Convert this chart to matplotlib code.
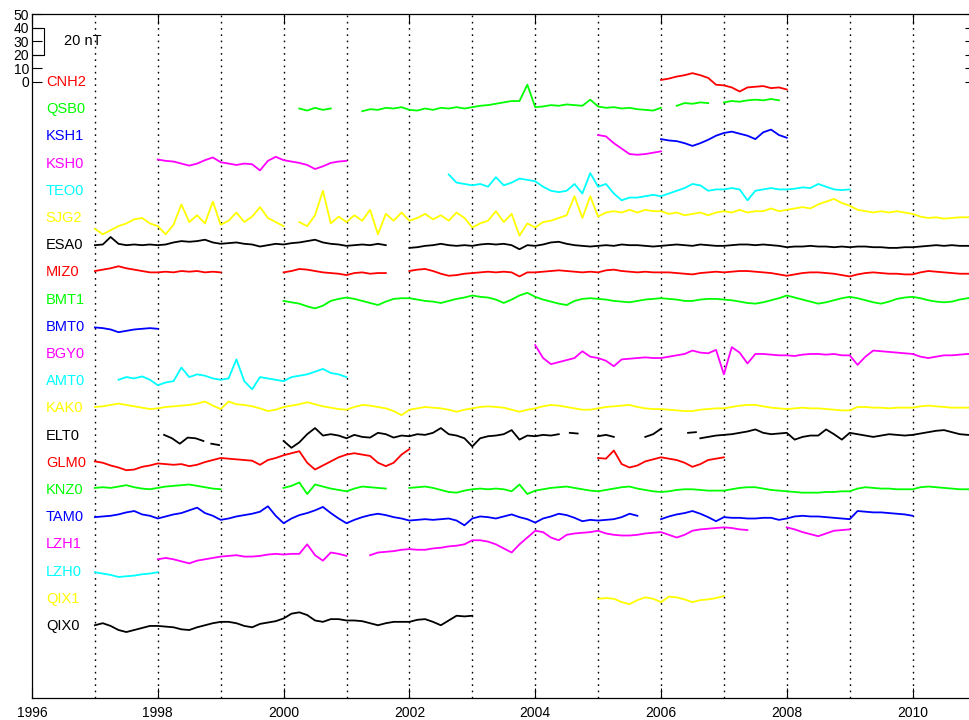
import numpy as np
import matplotlib
matplotlib.use("Agg")
import matplotlib.pyplot as plt

# Séries de variations (nT) lues sur la figure, pas de 1/8 d'année.
# Chaque station : liste de segments (année de début, valeurs)
STEP = 0.125
SPACING = 20  # décalage vertical entre stations (nT)

stations = ["CNH2", "QSB0", "KSH1", "KSH0", "TEO0", "SJG2", "ESA0", "MIZ0",
            "BMT1", "BMT0", "BGY0", "AMT0", "KAK0", "ELT0", "GLM0", "KNZ0",
            "TAM0", "LZH1", "LZH0", "QIX1", "QIX0"]

cnh2 = [(2006.0, [1.5, 2.5, 4, 5, 6.5, 5, 3, -2, -2.5, -4, -7, -4, -3.5, -3, -4.5, -4, -5.5])]

qsb0 = [
    (2000.25, [0.5, -1, 1, -0.5, 0.5]),
    (2001.25, [-1.5, 0, -0.5, 1, 0.5, 1.5,
               -0.5, -1, 0.5, -0.5, 1, 0.5, 1.5, 0.5,
               1.5, 2.5, 3, 4, 5, 6, 6, 18,
               1.5, 2, 3, 2.5, 3.5, 3, 2.5, 7,
               2, 1, 1.5, 0.5, 1, 0, -0.5, -1,
               1]),
    (2006.25, [2.5, 4.5, 4, 5, 4.5]),
    (2007.0, [5, 6, 5.5, 6.5, 7, 6.5, 7.5, 6.5]),
]

ksh1 = [(2006.0, [-2, -3, -3.5, -5, -7, -5, -2.5, 0.5, 2.5, 3.5, 2, 0.5, -2, 3, 5, 1, -1])]

ksh0 = [
    (1998.0, [3, 2, 1.5, 0, -1.5, 0, 2.5, 4.5,
              1, 0, -1, 0, -0.5, -5, 2, 5,
              2.5, 1.5, 0.5, -1, -4, -2, 0.5, 1.5,
              2]),
    (2005.0, [21, 20, 15, 11, 7, 6.5, 7, 8, 9]),
]

teo0 = [(2002.625, [12, 6, 5,
                    4, 5, 3, 10, 4, 6, 9, 8,
                    7, 3, 0, -1, 0, 5, -2, 13,
                    3, 5, -2, -7, -5, -5, -4, -3,
                    -4, -2, 0, 2, 5, 4, 0, 1,
                    1, 2, 1, -7, 0, 1, 2, 1,
                    1, 1.5, 2.5, 2, 5, 3, 1, 0.5,
                    1])]

sjg2 = [
    (1997.0, [-8, -12, -9, -6, -4, -1, 0, -4,
              -6, -12, -5, 10, -3, 2, -4, 12,
              -5, -2, 4, -3, 1, 8, 0, -3,
              -6]),
    (2000.25, [-3, -6, 2, 20, -4, 1,
               -3, 2, -2, 6, -12, 3, -2, 4,
               -2, 0, 3, -1, 2, -2, 4, 0,
               -7, -4, -2, 5, -3, 3, -13, -4,
               -7, -3, -2, 0, 2, 16, 0, 16,
               1, 4, 5, 4, 6, 4, 6, 5,
               5, 3, 4, 2, 3, 4, 2, 4,
               5, 4, 6, 4, 5, 5, 7, 5,
               6, 7, 8, 7, 10, 12, 14, 11,
               9, 6, 5, 4, 5, 4, 5, 4,
               3, 1, 0, 0.5, -0.5, 0, 0.5, 0.5,
               1]),
]

esa0 = [
    (1997.0, [0, 0.5, 6, 1, 0, 0.5, 0, 0.5,
              0, 0.5, 2, 3, 2.5, 3, 4, 2,
              1, 1.5, 2, 1, 0.5, -1, 0, 1,
              0.5, 1.5, 2, 3, 4, 2, 1, 0.5,
              -0.5, 0, 0.5, 0, 1, 0]),
    (2002.0, [-2, -1.5, -0.5, 0, 1, 0, -0.5, 0,
              -0.5, 0.5, 1, 0.5, 1, 0, -3, 0,
              -0.5, 0.5, 2, 2.5, 1, 0, -0.5, -1,
              -0.5, 0, -0.5, 0.5, 0, 0, -0.5, -1,
              -0.5, 0, 0.5, 0, -0.5, 0.5, 0, -0.5,
              -0.5, 0, 0.5, 0.5, 0, 0.5, 0, -0.5,
              -1.5, -1, -1, -0.5, -1, -1, -1.5, -1,
              -1.5, -1, -1, -1.5, -1.5, -2, -2, -1.5,
              -1.5, -1, -0.5, 0, -0.5, 0, -0.5, -0.5,
              -0.5]),
]

miz0 = [
    (1997.0, [1, 2, 3, 4.5, 3, 2, 1, 0,
              0, 0.5, 0, 1, 0.5, 1, 0, 0.5,
              0]),
    (2000.0, [0, 1, 2.5, 2, 1, 0, -0.5, -1,
              -2, -0.5, 0, -1, -0.5, -0.5]),
    (2002.0, [1, 2, 2.5, 1, -1, -2.5, -2, -1,
              -0.5, 0, 0.5, 0, 0.5, 0, -3, 0,
              0, 0.5, 1, 1.5, 1, 0.5, 0, 0.5,
              0, 1.5, 2, 1, 0.5, 0, 0.5, 0,
              0, 0, -0.5, -1, -1.5, -0.5, 0, 0.5,
              0, 0.5, 1, 1, 0.5, 0, -0.5, -1.5,
              -2.5, -1.5, -0.5, 0, 0, -0.5, -1, -2,
              -3, -1.5, -0.5, 0, -0.5, -1, -1, -1.5,
              -1.5, 0, 1, 0.5, 0, -0.5, -1, -1,
              -1]),
]

bmt1 = [(2000.0, [-1, -2, -3, -5, -6.5, -4.5, -1, 0.5,
                  1.5, 0.5, -1, -2.5, -4, -1.5, 0.5, 1,
                  1, 0, -1, -1.5, -2.5, -1, 0.5, 1.5,
                  3, 2, 1.5, 0, -2.5, 0, 3, 5,
                  2, 0, -1.5, -3, -4, -1, 0.5, 1,
                  0.5, 0, -1, -1.5, -2, -1, 0, 0.5,
                  1, 0.5, 0, -1, -1, 0, 0.5, 0.5,
                  0, -0.5, -1.5, -2.5, -3, -2, -0.5, 1,
                  3, 1.5, 0, -1.5, -3, -2, -0.5, 1,
                  2, 1, -0.5, -2, -3, -1.5, 0.5, 1.5,
                  2, 1, -0.5, -1.5, -2, -1.5, 0, 1,
                  2])]

bmt0 = [(1997.0, [-0.5, -1, -2, -4, -3, -2, -1.5, -1, -1.5])]

bgy0 = [(2004.0, [6.5, -3, -7.5, -6, -4.5, -3, 2, -2,
                  -3, -5, -9, -4, -3.5, -3, -2.5, -3,
                  -3, -2, -1, 0, 2.5, 1, 0.5, 3,
                  -15, 5, 1, -7, 0, 0, -0.5, -1,
                  -1, -1.5, -0.5, 0, 0, -0.5, 0, -1,
                  -1, -8, -2, 2.5, 2, 1.5, 1, 0.5,
                  0, -2, -3, -2, -1, -1, -0.5, 0,
                  0])]

amt0 = [(1997.375, [1, 3, 2, 3.5, 1,
                    -3, -1, 0, 10, 3, 5, 4, 2,
                    1, 2, 16, 0, -6, 3, 2, 1,
                    0, 3, 4, 5, 7, 9, 6, 5,
                    3])]

kak0 = [(1997.0, [1, 1.5, 2.5, 3.5, 2.5, 1.5, 0.5, -0.5,
                  0, 1, 1.5, 2, 2.5, 3.5, 5, 2,
                  -0.5, 5, 3, 2.5, 1.5, 0, -2, -1,
                  1, 2, 3, 4.5, 3, 1.5, 0.5, -0.5,
                  -1, 1, 2.5, 2, 1, 0, -2, -5,
                  -1, 0, 1, 0.5, 0, -1, -2.5, -1,
                  0, 1, 1.5, 1, 0.5, -1, -2.5, -1,
                  0, 1.5, 2.5, 2, 1, 0, -1, -1,
                  0, 1, 1.5, 2, 2.5, 1, 0, -0.5,
                  -0.5, -1, -1.5, -2, -2, -1, -0.5, 0,
                  0, 1, 2, 2.5, 2.5, 1.5, 0.5, 0,
                  -0.5, 0, 0.5, 0, 0, -0.5, -1, -1.5,
                  -1.5, 1, 1, 0.5, 0.5, 0, 0.5, 0.5,
                  0.5, 1.5, 2, 1.5, 1, 0.5, 0.5, 0.5,
                  0.5])]

elt0 = [
    (1998.1, [0.5, -2, -6, -1.5, -2, -4]),
    (1998.85, [-6, -7]),
    (2000.0, [-4, -9, -5, 1, 5.5, 0, 1, 0,
              -2, 0.5, -1, -1.5, 2, 1, -1.5, 0,
              -0.5, 1, 0.5, 2, 5.5, 1, 0, -2,
              -8, -2, -0.5, 0, 1, 4, -3, 0,
              -0.5, 0.5, 0, 1]),
    (2004.55, [2, 1.5]),
    (2005.0, [-0.5, 0.5, -1]),
    (2005.75, [-1, 1, 5]),
    (2006.43, [2, 2.5]),
    (2006.625, [-2, -1, 0,
                0.5, 1, 2, 3, 4.5, 2, 1, 1.5,
                2, -3, -1, 0, 0, 4.5, 1, -3,
                2, 1, 0, -1, 0, 1, 0.5, 0,
                0.5, 1.5, 2.5, 3.5, 4, 2.5, 1, 0.5,
                0.5]),
]

glm0 = [
    (1997.0, [1, 0, -2, -3.5, -5.5, -5, -3, -2,
              -0.5, -1, -1.5, -1, -2.5, -1.5, 0.5, 2,
              3.5, 3, 2.5, 2, 1.5, -1.5, 2, 3.5,
              5.5, 7, 8.5, 0, -5, -2, 1, 4,
              6, 7, 6, 5, 0, -2.5, 0, 6,
              10]),
    (2005.0, [3.5, 3, 9, -1, -3.5, -2, 1, 2.5,
              4, 3, 2, 0, -3, -1, 2, 3,
              4]),
]

knz0 = [
    (1997.0, [1.5, 2, 1.5, 2.5, 3.5, 2, 1, 0.5,
              1.5, 2.5, 3, 3.5, 4, 3, 2, 1,
              0.5]),
    (2000.0, [1.5, 3, 5.5, -3, 4, 2.5, 1, 0,
              -1, 1, 2.5, 2, 1.5, 1]),
    (2002.0, [1.5, 2, 2.5, 1.5, 0, -1.5, -2, -0.5,
              0.5, 1, 0.5, 1, 0.5, -1, 4, -3,
              -0.5, 0.5, 1.5, 2, 2.5, 1.5, 0.5, -0.5,
              -1, 0, 1, 2, 2.5, 1, 0, -1,
              -1.5, -1, 0, 0.5, 0.5, 0, -0.5, -0.5,
              -0.5, 0.5, 1.5, 2, 2, 1, 0, -0.5,
              -1, -1.5, -2, -2, -2, -1.5, -1.5, -1,
              -1, 1, 2, 1.5, 1, 1, 0.5, 0.5,
              0.5, 2, 2.5, 2, 1.5, 1, 0.5, 0.5,
              0.5]),
]

tam0 = [
    (1997.0, [0, 0.5, 1, 2, 3.5, 4.5, 2, 1,
              -1, 0.5, 2, 3, 5, 7, 3, 1,
              -2, -1, 0.5, 1.5, 2.5, 4, 8, 1,
              -4.5, -1, 1.5, 3, 5, 7.5, 3, -1,
              -4.5, -2, 0, 1.5, 2.5, 1.5, 0, -1,
              -2.5, -2, -1.5, -2, -1.5, -1, -2.5, -6,
              -1, 0.5, 0, -1, 0.5, 2, 0, -1.5,
              -4, -1, 0.5, 2.5, 1.5, -0.5, -3, -2,
              -2.5, -2, -1.5, 0, 2.5, 1]),
    (2006.0, [-1.5, 0.5, 2, 3, 4.5, 2.5, 0, -3,
              0, -0.5, -0.5, -1, -1, -0.5, -0.5, -2,
              -1, 0.5, 1, 0.5, 0.5, 0, -0.5, -1,
              -1.5, 4.5, 4, 3.5, 3.5, 3, 2.5, 2,
              1]),
]

lzh1 = [
    (1998.0, [-11, -10, -11, -12.5, -14, -12, -11, -10,
              -9, -8.5, -8, -9, -9, -8.5, -7.5, -7,
              -7.5, -7, -7, 0, -8, -12, -6, -7,
              -8.5]),
    (2001.375, [-8, -6, -5.5, -5, -4,
                -3.5, -4, -4, -3, -2.5, -1.5, -1, 0,
                3, 3, 2, 0, -3, -6, 0, 5,
                10, 9, 5, 3, 7, 8, 8.5, 9,
                10, 8, 7, 6.5, 6.5, 7, 8, 8.5,
                9, 7, 5, 7, 10, 11, 11.5, 12,
                12.5, 12, 11, 10.5]),
    (2008.0, [12.5, 11, 9, 7.5, 6, 8, 10, 10.5, 11]),
]

lzh0 = [(1997.0, [-0.5, -1.5, -2.5, -4, -3.5, -3, -2, -1.5, -0.5])]

qix1 = [(2005.0, [0, 0.5, 0, -2.5, -4, -1, 1, 0,
                  -2.5, 1.5, 1, -0.5, -2.5, -1, -0.5, 0.5,
                  2])]

qix0 = [(1997.0, [0.5, 2, 0, -3, -4.5, -3, -1.5, 0,
                  0, -0.5, -1, -2.5, -3, -1, 0.5, 2,
                  3, 3, 2, 0, -1, 1.5, 2.5, 3.5,
                  5.5, 9, 10, 8, 4, 3, 5, 5,
                  4, 4, 3.5, 2, 0.5, 2, 3, 3,
                  3, 4.5, 5, 3, 0.5, 4, 7.5, 7,
                  7.5])]

series = [cnh2, qsb0, ksh1, ksh0, teo0, sjg2, esa0, miz0, bmt1, bmt0, bgy0,
          amt0, kak0, elt0, glm0, knz0, tam0, lzh1, lzh0, qix1, qix0]

# cycle de couleurs façon MATLAB, en partant du bas
cycle = ["#000000", "#ffff00", "#00ffff", "#ff00ff", "#0000ff", "#00ff00", "#ff0000"]

plt.rcParams["font.family"] = ["Liberation Sans", "DejaVu Sans"]

fig = plt.figure(figsize=(9.69, 7.2), dpi=100)
ax = fig.add_axes([32 / 969, 22 / 720, 943.5 / 969, 684 / 720])

n = len(stations)
for i, (name, segs) in enumerate(zip(stations, series)):
    col = cycle[(n - 1 - i) % len(cycle)]
    offset = -SPACING * i
    for t0, vals in segs:
        v = np.array(vals, dtype=float)
        t = t0 + STEP * np.arange(len(v))
        ax.plot(t, v + offset, color=col, lw=1.3)
    ax.text(1996.22, offset, name, color=col, fontsize=10.5,
            ha="left", va="center")

# lignes verticales pointillées chaque année
for yr in range(1997, 2011):
    ax.axvline(yr, color="k", lw=1.0, linestyle=(0, (1.2, 3.3)), zorder=0)

# barre d'échelle 20 nT
ax.plot([1996.0, 1996.196, 1996.196, 1996.0], [40, 40, 20, 20], color="k", lw=0.8)
ax.text(1996.51, 30, "20 nT", fontsize=10.5, ha="left", va="center")

ax.set_xlim(1996, 2011)
ax.set_ylim(-453, 50)
ax.set_xticks(range(1996, 2011, 2))
ax.set_yticks(range(0, 51, 10))
ax.tick_params(direction="in", length=7.5, width=0.8, top=True, right=True,
               labelsize=10)
ax.tick_params(axis="x", pad=6)
ax.tick_params(axis="y", pad=2)
for sp in ax.spines.values():
    sp.set_linewidth(0.9)

fig.savefig("out.png", dpi=100)
